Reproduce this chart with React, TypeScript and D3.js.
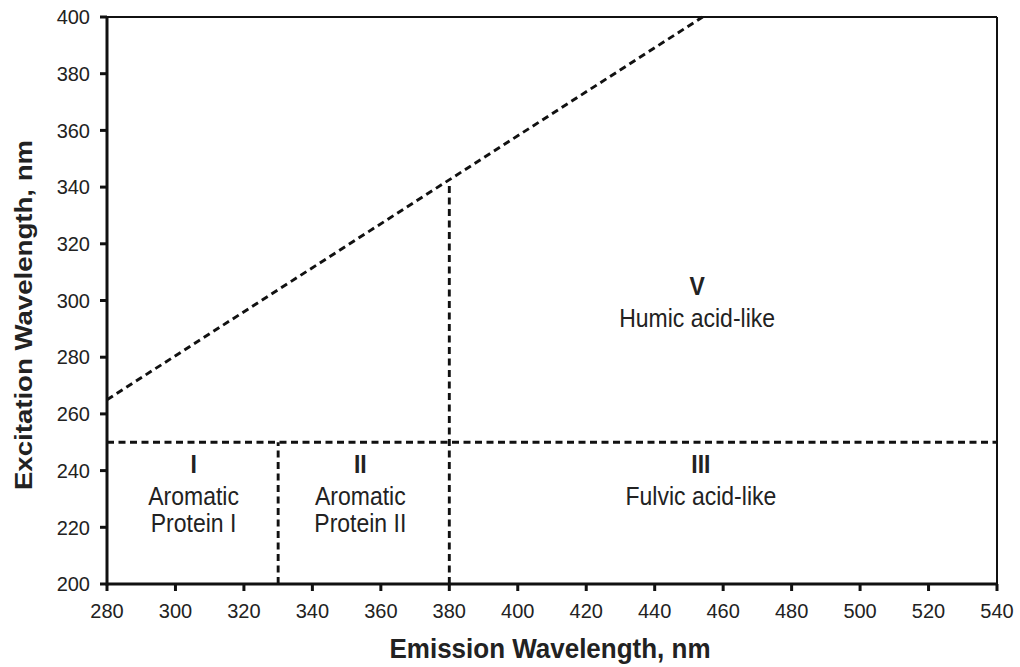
import React from "react";
import * as d3 from "d3";

const xTicks = [280, 300, 320, 340, 360, 380, 400, 420, 440, 460, 480, 500, 520, 540];
const yTicks = [200, 220, 240, 260, 280, 300, 320, 340, 360, 380, 400];

// boundary lines (emission, excitation)
const diagonal: [number, number][] = [[280, 265], [454, 400]];
const horizontal: [number, number][] = [[280, 250], [540, 250]];
const vertical330: [number, number][] = [[330, 200], [330, 250]];
const vertical380: [number, number][] = [[380, 200], [380, 342]];
const boundaries = [diagonal, horizontal, vertical330, vertical380];

const regionLabels = [
  { id: "I", lines: ["Aromatic", "Protein I"], em: 305.3, ex: 239.2 },
  { id: "II", lines: ["Aromatic", "Protein II"], em: 354, ex: 239.2 },
  { id: "III", lines: ["Fulvic acid-like"], em: 453.5, ex: 239.2 },
  { id: "V", lines: ["Humic acid-like"], em: 452.4, ex: 301.9 },
];

const W = 1020, H = 667;
const left = 107, right = 997, top = 17, bottom = 584;

export default function App() {
  const x = d3.scaleLinear().domain([280, 540]).range([left, right]);
  const y = d3.scaleLinear().domain([200, 400]).range([bottom, top]);
  const line = d3.line<[number, number]>().x(d => x(d[0])).y(d => y(d[1]));
  const font = "Arial, 'Liberation Sans', Helvetica, sans-serif";
  return (
    <svg width={W} height={H} style={{ position: "absolute", left: 0, top: 0 }} fontFamily={font}>
      <rect width={W} height={H} fill="#fff" />
      {/* frame */}
      <line x1={left} x2={right} y1={top} y2={top} stroke="#111" strokeWidth={2} />
      <line x1={right} x2={right} y1={top} y2={bottom} stroke="#111" strokeWidth={2} />
      {/* boundaries */}
      {boundaries.map((b, i) => (
        <path key={i} d={line(b) || ""} fill="none" stroke="#111" strokeWidth={2.9} strokeDasharray="7,4.5" />
      ))}
      {/* axes */}
      <line x1={left} x2={right + 1} y1={bottom} y2={bottom} stroke="#111" strokeWidth={3} />
      <line x1={left} x2={left} y1={top - 1} y2={bottom + 1.5} stroke="#111" strokeWidth={3} />
      {xTicks.map(t => (
        <g key={t}>
          <line x1={x(t)} x2={x(t)} y1={bottom} y2={bottom + 7} stroke="#111" strokeWidth={3} />
          <text x={x(t)} y={bottom + 34} textAnchor="middle" fontSize={20} fill="#222">{t}</text>
        </g>
      ))}
      {yTicks.map(t => (
        <g key={t}>
          <line x1={left - 7} x2={left} y1={y(t)} y2={y(t)} stroke="#111" strokeWidth={3} />
          <text x={left - 17} y={y(t)} dy="0.36em" textAnchor="end" fontSize={20} fill="#222">{t}</text>
        </g>
      ))}
      {/* region labels */}
      {regionLabels.map(r => (
        <g key={r.id} transform={`translate(${x(r.em)},${y(r.ex)}) scale(1,1.12)`}>
          <text x={0} y={0} textAnchor="middle" fontSize={23} fontWeight="bold" fill="#222">{r.id}</text>
          {r.lines.map((l, i) => (
            <text key={i} x={0} y={(32 + i * 27) / 1.12} textAnchor="middle" fontSize={23} fill="#222">{l}</text>
          ))}
        </g>
      ))}
      {/* axis titles */}
      <text transform={`translate(${(left + right) / 2 - 2},658) scale(1,1.05)`} textAnchor="middle" fontSize={26} fontWeight="bold" fill="#222">Emission Wavelength, nm</text>
      <text transform={`translate(32,315) rotate(-90) scale(1.15,1)`} textAnchor="middle" fontSize={24} fontWeight="bold" fill="#222">Excitation Wavelength, nm</text>
    </svg>
  );
}
